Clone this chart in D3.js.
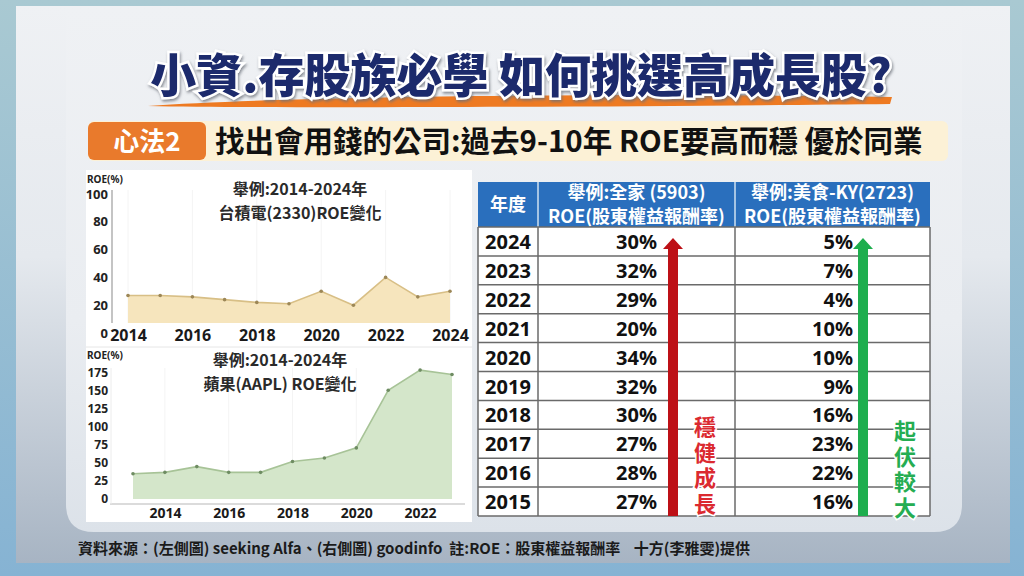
<!DOCTYPE html>
<html>
<head>
<meta charset="utf-8">
<title>小資存股族 ROE</title>
<script src="https://cdn.jsdelivr.net/npm/d3@7"></script>
<style>
  body { margin: 0; }
  svg text { font-family: "Noto Sans CJK TC", "Noto Sans", sans-serif; font-weight: 700; }
</style>
</head>
<body>
<div id="chart"></div>
<script>
// data
var tsmcYears = [2014, 2015, 2016, 2017, 2018, 2019, 2020, 2021, 2022, 2023, 2024];
var tsmcRoe   = [27, 27, 26, 24, 22, 21, 30, 20, 40, 26, 30];
var tsmcTicks = [0, 20, 40, 60, 80, 100];
var tsmcYearTicks = [2014, 2016, 2018, 2020, 2022, 2024];

var aaplYears = [2013, 2014, 2015, 2016, 2017, 2018, 2019, 2020, 2021, 2022, 2023];
var aaplRoe   = [35, 37, 45, 37, 37, 52, 57, 71, 151, 179, 173];
var aaplTicks = [0, 25, 50, 75, 100, 125, 150, 175];
var aaplYearTicks = [2014, 2016, 2018, 2020, 2022];

var tableYears = [2024, 2023, 2022, 2021, 2020, 2019, 2018, 2017, 2016, 2015];
var familyRoe  = [30, 32, 29, 20, 34, 32, 30, 27, 28, 27];
var meishiRoe  = [5, 7, 4, 10, 10, 9, 16, 23, 22, 16];

var W = 1024, H = 576;
var svg = d3.select("#chart").append("svg").attr("width", W).attr("height", H);
var defs = svg.append("defs");

function vgrad(id, stops) {
  var g = defs.append("linearGradient").attr("id", id)
    .attr("x1", 0).attr("y1", 0).attr("x2", 0).attr("y2", 1);
  stops.forEach(function(s) { g.append("stop").attr("offset", s[0]).attr("stop-color", s[1]); });
}
vgrad("outer", [[0, "#eff1f4"], [0.45, "#e5e9ee"], [1, "#a7b4c3"]]);
vgrad("inner", [[0, "#eff1f4"], [0.6, "#eaedf1"], [1, "#dce2e9"]]);
vgrad("band", [[0, "#a9c9d2"], [1, "#86b3d3"]]);

var sh = defs.append("filter").attr("id", "shadow").attr("x", "-5%").attr("y", "-20%").attr("width", "110%").attr("height", "150%");
sh.append("feDropShadow").attr("dx", 1).attr("dy", 2).attr("stdDeviation", 1.5).attr("flood-color", "#6d717a").attr("flood-opacity", 0.8);

// background
svg.append("rect").attr("width", W).attr("height", H).attr("fill", "url(#band)");
svg.append("rect").attr("x", 16).attr("y", 6).attr("width", 994).attr("height", 557).attr("fill", "url(#outer)");
svg.append("path").attr("d", "M66,6 H962 V504 Q962,532 934,532 H94 Q66,532 66,504 Z").attr("fill", "url(#inner)");

// title
svg.append("path")
  .attr("d", "M148,106 C300,95 700,93 892,97 L890,104 C700,106 300,109 148,106 Z")
  .attr("fill", "#ee7a22");
svg.append("text")
  .attr("x", 521).attr("y", 92).attr("text-anchor", "middle")
  .attr("font-size", 46).style("font-weight", 900)
  .attr("fill", "#1c2a6c").attr("stroke", "#fff").attr("stroke-width", 5)
  .attr("paint-order", "stroke").attr("filter", "url(#shadow)")
  .text("小資.存股族必學 如何挑選高成長股?");

// subtitle bar
svg.append("rect").attr("x", 88).attr("y", 121).attr("width", 860).attr("height", 40).attr("rx", 6).attr("fill", "#fcf1d6");
svg.append("rect").attr("x", 88).attr("y", 122).attr("width", 118).attr("height", 38).attr("rx", 6).attr("fill", "#e97a2c");
svg.append("text").attr("x", 147).attr("y", 151).attr("text-anchor", "middle")
  .attr("font-size", 26).attr("fill", "#fff").text("心法2");
svg.append("text").attr("x", 215).attr("y", 152)
  .attr("font-size", 29.5).attr("fill", "#111").text("找出會用錢的公司:過去9-10年 ROE要高而穩 優於同業");

// left white box
svg.append("rect").attr("x", 86).attr("y", 170).attr("width", 386).attr("height", 352).attr("fill", "#fff");
svg.append("line").attr("x1", 86).attr("x2", 472).attr("y1", 347).attr("y2", 347).attr("stroke", "#e6e6e6");

function areaChart(o) {
  var g = svg.append("g");
  var x = d3.scaleLinear().domain(o.xDomain).range(o.xRange);
  var y = d3.scaleLinear().domain(o.yDomain).range(o.yRange);

  g.selectAll(".grid").data(o.yearTicks).enter().append("line")
    .attr("x1", x).attr("x2", x).attr("y1", o.gridTop).attr("y2", o.base)
    .attr("stroke", "#f4f4f4");

  var area = d3.area().x(function(d, i) { return x(o.years[i]); })
    .y0(o.base).y1(function(d) { return y(d); });
  var line = d3.line().x(function(d, i) { return x(o.years[i]); })
    .y(function(d) { return y(d); });

  g.append("path").datum(o.values).attr("d", area).attr("fill", o.fill);
  g.append("path").datum(o.values).attr("d", line).attr("fill", "none")
    .attr("stroke", o.stroke).attr("stroke-width", 1.6);
  g.selectAll(".pt").data(o.values).enter().append("circle")
    .attr("cx", function(d, i) { return x(o.years[i]); })
    .attr("cy", function(d) { return y(d); })
    .attr("r", 1.8).attr("fill", o.dot);

  // axes
  var ya = g.append("g").attr("transform", "translate(108,0)")
    .call(d3.axisLeft(y).tickValues(o.yTicks).tickSize(0).tickPadding(0));
  ya.select(".domain").remove();
  ya.selectAll("text").attr("font-size", o.yFont).attr("fill", "#222")
    .style("font-family", "'Noto Sans', sans-serif");

  var xa = g.append("g").attr("transform", "translate(0," + o.xLabelY + ")")
    .call(d3.axisBottom(x).tickValues(o.yearTicks).tickFormat(d3.format("d")).tickSize(0).tickPadding(0));
  xa.select(".domain").remove();
  xa.selectAll("text").attr("font-size", o.xFont).attr("fill", "#1a1a1a")
    .style("font-family", "'Noto Sans', sans-serif");

  g.append("text").attr("x", 87).attr("y", o.unitY).attr("font-size", 10).attr("fill", "#222")
    .style("font-family", "'Noto Sans', sans-serif").text("ROE(%)");
  o.titles.forEach(function(t, i) {
    g.append("text").attr("x", o.titleX).attr("y", o.titleY + i * 23.5).attr("text-anchor", "middle")
      .attr("font-size", 16).attr("fill", "#2a2a2a").text(t);
  });
  return g;
}

// top chart: TSMC
var topChart = areaChart({
  years: tsmcYears, values: tsmcRoe, yearTicks: tsmcYearTicks, yTicks: tsmcTicks,
  xDomain: [2014, 2024], xRange: [128, 450],
  yDomain: [0, 100], yRange: [333, 194],
  base: 323, gridTop: 190, xLabelY: 329.5, xFont: 16, yFont: 13, unitY: 183,
  fill: "#f6e5bd", stroke: "#d8bf86", dot: "#9c8757",
  titles: ["舉例:2014-2024年", "台積電(2330)ROE變化"], titleX: 300, titleY: 195
});
topChart.append("line").attr("x1", 112).attr("x2", 112).attr("y1", 190).attr("y2", 323)
  .attr("stroke", "#c4c4c4").attr("stroke-width", 2);

// bottom chart: Apple
var botChart = areaChart({
  years: aaplYears, values: aaplRoe, yearTicks: aaplYearTicks, yTicks: aaplTicks,
  xDomain: [2013, 2023], xRange: [133, 452],
  yDomain: [0, 175], yRange: [499, 373],
  base: 499, gridTop: 368, xLabelY: 508, xFont: 14, yFont: 12, unitY: 359,
  fill: "#d4e6ca", stroke: "#a7c397", dot: "#6e8c62",
  titles: ["舉例:2014-2024年", "蘋果(AAPL) ROE變化"], titleX: 280, titleY: 366
});
botChart.append("line").attr("x1", 110).attr("x2", 465).attr("y1", 504).attr("y2", 504)
  .attr("stroke", "#cfcfcf").attr("stroke-width", 1.5);
botChart.append("line").attr("x1", 111).attr("x2", 111).attr("y1", 368).attr("y2", 504)
  .attr("stroke", "#ececec").attr("stroke-width", 1);

// table
var colX = [478, 538, 735, 930];
var headTop = 182, headBot = 227, tableBot = 516;
var row = d3.scaleBand().domain(tableYears).range([headBot, tableBot]);
var tg = svg.append("g");

tg.append("rect").attr("x", colX[0]).attr("y", headBot).attr("width", colX[3] - colX[0])
  .attr("height", tableBot - headBot).attr("fill", "#fff");
tg.append("rect").attr("x", colX[0]).attr("y", headTop).attr("width", colX[3] - colX[0])
  .attr("height", headBot - headTop).attr("fill", "#2a6fbd");
[colX[1], colX[2]].forEach(function(cx) {
  tg.append("line").attr("x1", cx).attr("x2", cx).attr("y1", headTop).attr("y2", headBot)
    .attr("stroke", "#cfe0f2").attr("stroke-width", 1.5);
});

var heads = [
  { x: (colX[0] + colX[1]) / 2, lines: ["年度"] },
  { x: (colX[1] + colX[2]) / 2, lines: ["舉例:全家 (5903)", "ROE(股東權益報酬率)"] },
  { x: (colX[2] + colX[3]) / 2, lines: ["舉例:美食-KY(2723)", "ROE(股東權益報酬率)"] }
];
heads.forEach(function(h) {
  var ht = tg.append("text").attr("y", h.lines.length === 1 ? 211 : 199)
    .attr("text-anchor", "middle").attr("font-size", 18).attr("fill", "#fff");
  h.lines.forEach(function(t, i) {
    ht.append("tspan").attr("x", h.x).attr("dy", i ? 24 : 0).text(t);
  });
});

// row lines
tg.selectAll(".hl").data(tableYears.slice(1)).enter().append("line")
  .attr("x1", colX[0]).attr("x2", colX[3])
  .attr("y1", function(d) { return row(d); }).attr("y2", function(d) { return row(d); })
  .attr("stroke", "#6a6a6a").attr("stroke-width", 1.5);
colX.forEach(function(cx) {
  tg.append("line").attr("x1", cx).attr("x2", cx).attr("y1", headBot).attr("y2", tableBot)
    .attr("stroke", "#6a6a6a").attr("stroke-width", 1.5);
});
tg.append("line").attr("x1", colX[0]).attr("x2", colX[3]).attr("y1", tableBot).attr("y2", tableBot)
  .attr("stroke", "#6a6a6a").attr("stroke-width", 1.5);
tg.append("line").attr("x1", colX[0]).attr("x2", colX[3]).attr("y1", headBot).attr("y2", headBot)
  .attr("stroke", "#6a6a6a").attr("stroke-width", 1.5);

var cellFont = "'Noto Sans', sans-serif";
tg.selectAll(".yr").data(tableYears).enter().append("text")
  .attr("x", (colX[0] + colX[1]) / 2).attr("y", function(d) { return row(d) + 22; })
  .attr("text-anchor", "middle").attr("font-size", 20).attr("fill", "#111")
  .style("font-family", cellFont).text(function(d) { return d; });
tg.selectAll(".fm").data(familyRoe).enter().append("text")
  .attr("x", 657).attr("y", function(d, i) { return row(tableYears[i]) + 22; })
  .attr("text-anchor", "end").attr("font-size", 20).attr("fill", "#111")
  .style("font-family", cellFont).text(function(d) { return d + "%"; });
tg.selectAll(".ms").data(meishiRoe).enter().append("text")
  .attr("x", 853).attr("y", function(d, i) { return row(tableYears[i]) + 22; })
  .attr("text-anchor", "end").attr("font-size", 20).attr("fill", "#111")
  .style("font-family", cellFont).text(function(d) { return d + "%"; });

// arrows
function arrow(cx, color) {
  var tip = row(tableYears[0]) + 11;
  tg.append("path")
    .attr("d", "M" + cx + "," + tip + " L" + (cx + 10) + "," + (tip + 11) + " L" + (cx + 5) + "," + (tip + 11) +
      " L" + (cx + 5) + "," + tableBot + " L" + (cx - 5) + "," + tableBot + " L" + (cx - 5) + "," + (tip + 11) +
      " L" + (cx - 10) + "," + (tip + 11) + " Z")
    .attr("fill", color);
}
arrow(673, "#bd1016");
arrow(863, "#1eae4e");

// vertical captions beside the arrows
function vertical(chars, cx, yTop, color) {
  tg.append("text").attr("x", cx).attr("y", yTop)
    .style("writing-mode", "vertical-rl").style("letter-spacing", "3.5px")
    .attr("font-size", 22).attr("fill", color).attr("stroke", "#fff").attr("stroke-width", 3)
    .attr("paint-order", "stroke").text(chars);
}
vertical("穩健成長", 705, 416, "#db2a30");
vertical("起伏較大", 905, 420, "#25ad52");

// footer
svg.append("text").attr("x", 78).attr("y", 554).attr("font-size", 15).attr("fill", "#1b1b1b")
  .attr("xml:space", "preserve").style("white-space", "pre")
  .text("資料來源：(左側圖) seeking Alfa、(右側圖) goodinfo  註:ROE：股東權益報酬率    十方(李雅雯)提供");
</script>
</body>
</html>
